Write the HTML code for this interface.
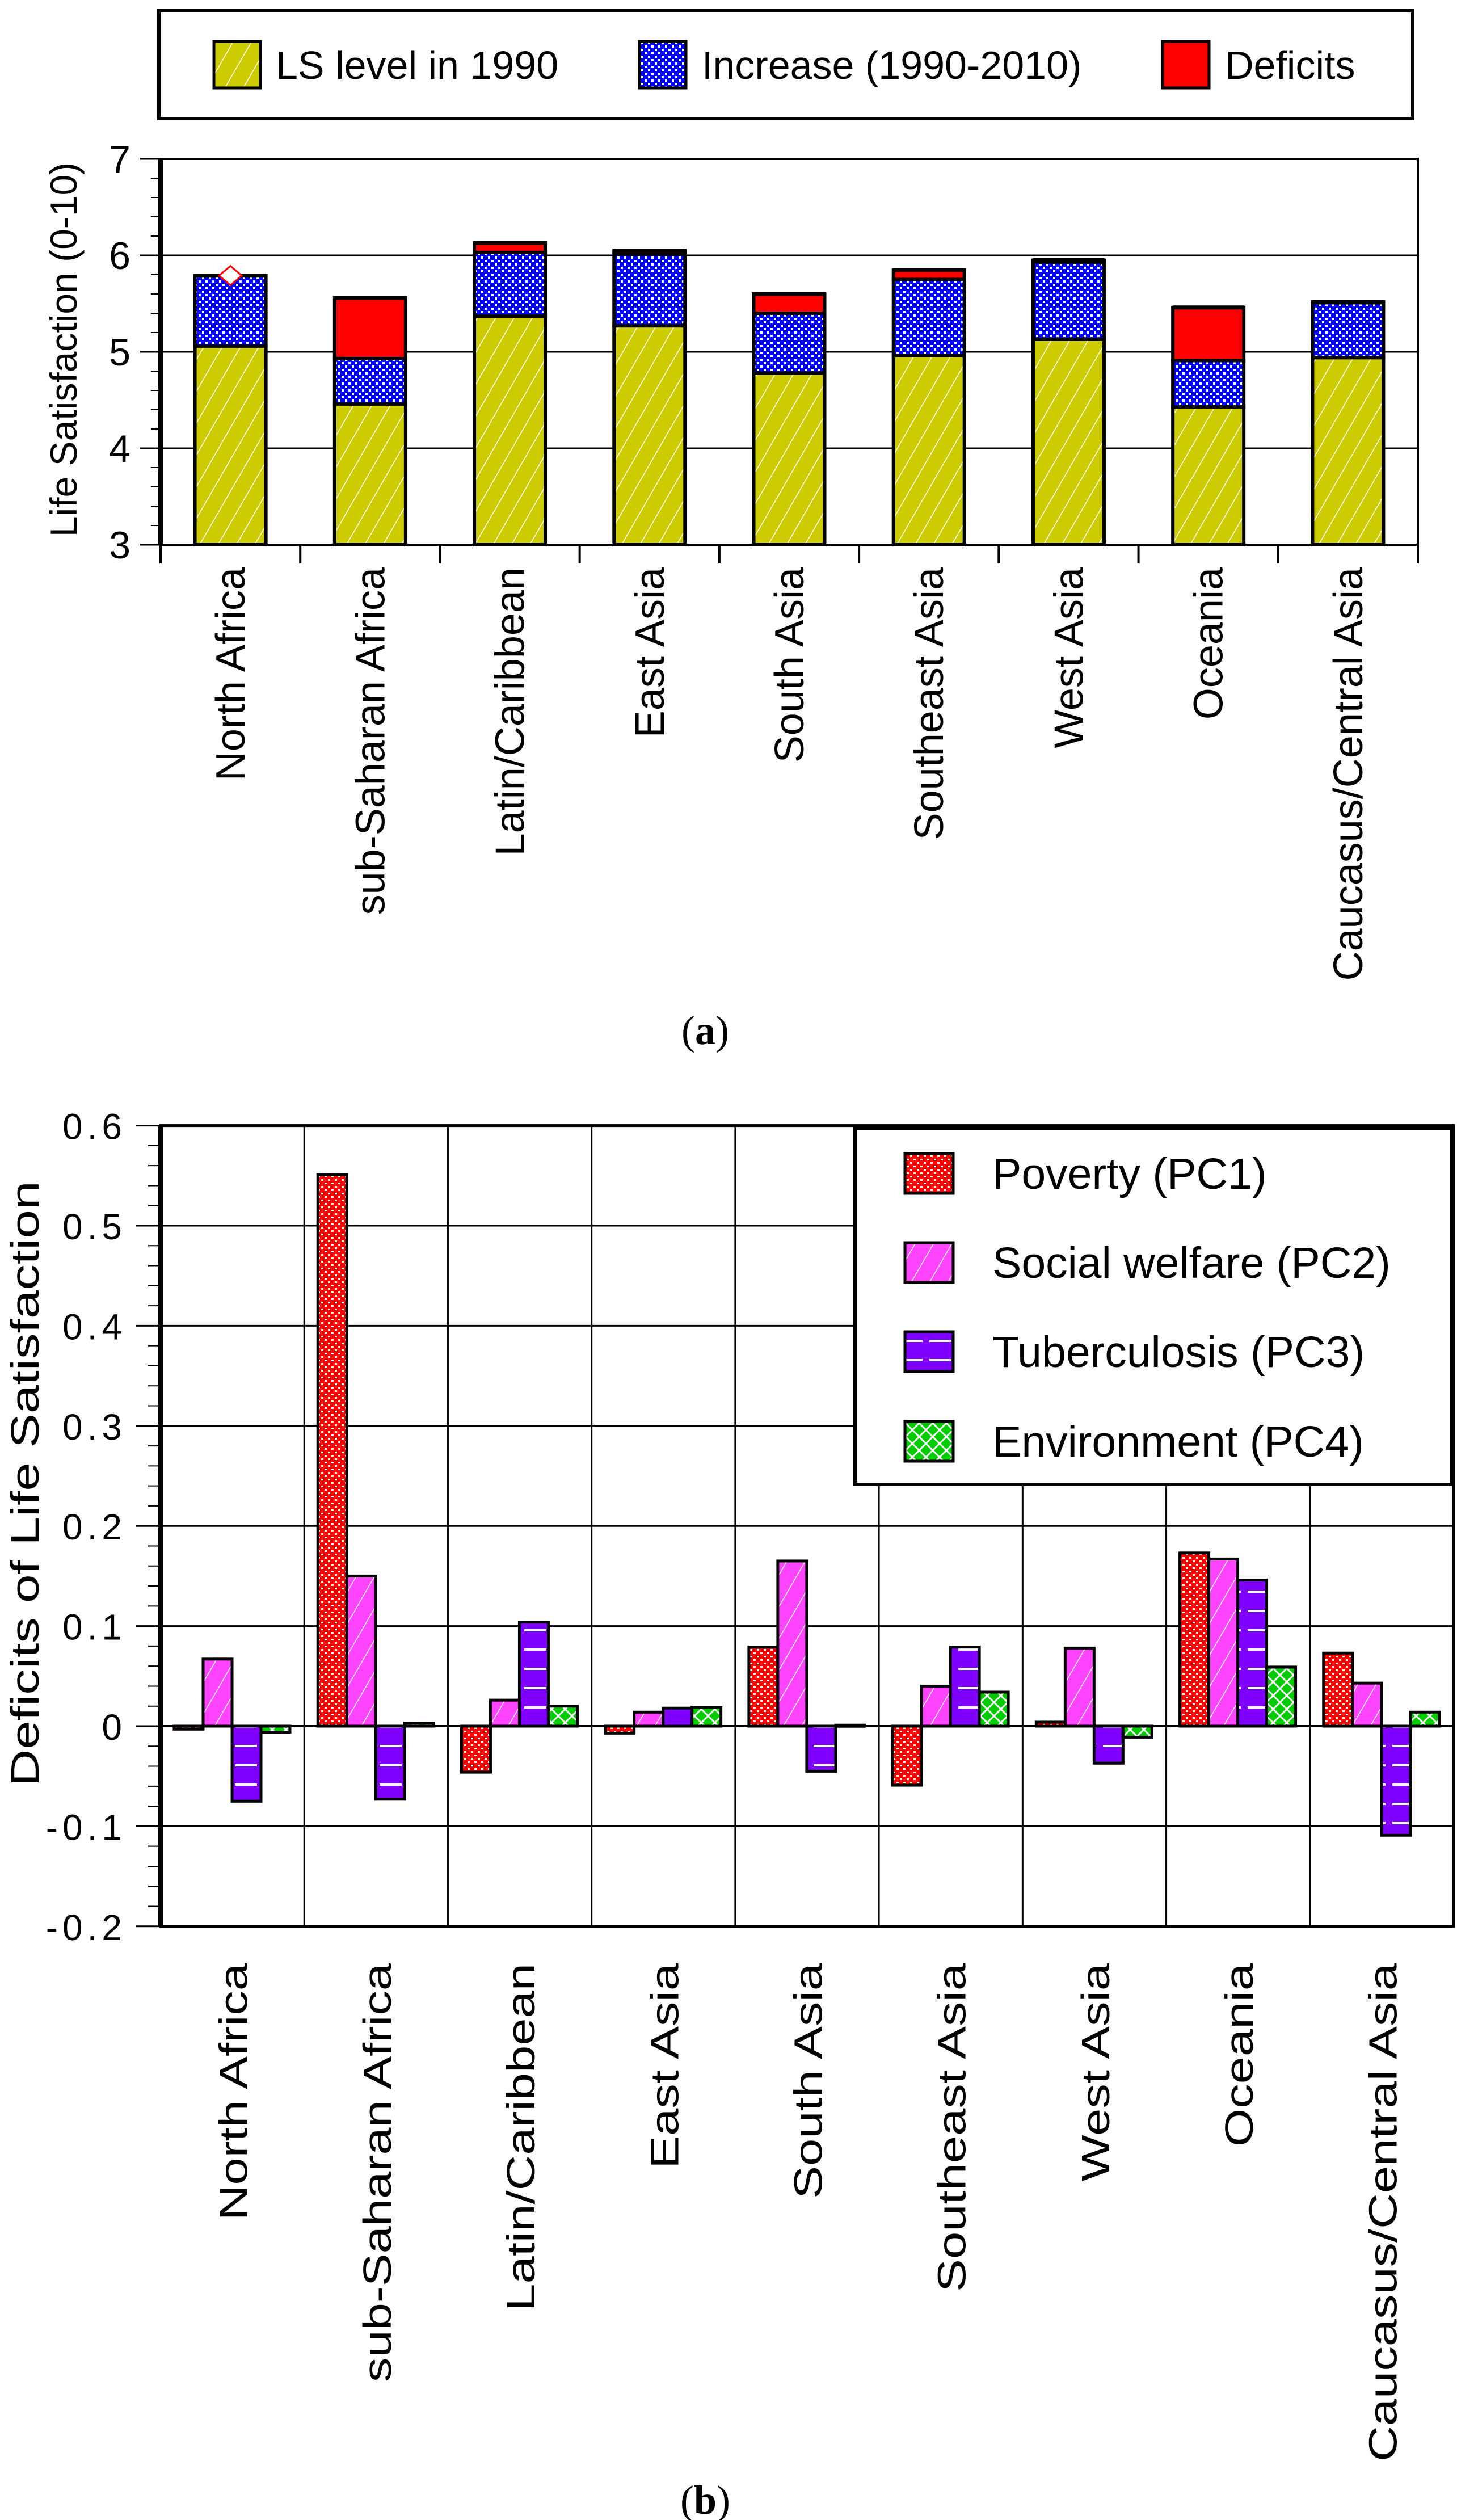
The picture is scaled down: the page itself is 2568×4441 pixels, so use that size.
<!DOCTYPE html>
<html><head><meta charset="utf-8"><style>
html,body{margin:0;padding:0;background:#fff;}
svg{display:block;font-family:"Liberation Sans",sans-serif;}
</style></head><body>
<svg id="root" width="2568" height="4441" viewBox="0 0 2568 4441" xmlns="http://www.w3.org/2000/svg">
<defs>
<pattern id="pYel" width="28" height="28" patternUnits="userSpaceOnUse" patternTransform="rotate(30)"><rect width="28" height="28" fill="#cccc00"/><line x1="0" y1="0" x2="0" y2="28" stroke="#fff" stroke-width="3"/></pattern>
<pattern id="pBlue" width="12" height="12" patternUnits="userSpaceOnUse"><rect width="12" height="12" fill="#0000ff"/><rect x="2" y="2" width="4" height="4" fill="#fff"/><rect x="8" y="8" width="4" height="4" fill="#fff"/></pattern>
<pattern id="pRedDot" width="12" height="12" patternUnits="userSpaceOnUse"><rect width="12" height="12" fill="#ff0000"/><rect x="2" y="2" width="4" height="3" fill="#fff"/><rect x="8" y="8" width="4" height="3" fill="#fff"/></pattern>
<pattern id="pPink" width="28" height="28" patternUnits="userSpaceOnUse" patternTransform="rotate(30)"><rect width="28" height="28" fill="#ff44ff"/><line x1="0" y1="0" x2="0" y2="28" stroke="#fff" stroke-width="3"/></pattern>
<pattern id="pPurp" width="51" height="34" patternUnits="userSpaceOnUse"><rect width="51" height="34" fill="#8000ff"/><line x1="6" y1="17" x2="45" y2="17" stroke="#fff" stroke-width="4"/></pattern>
<pattern id="pGreen" width="24" height="24" patternUnits="userSpaceOnUse"><rect width="24" height="24" fill="#00cc00"/><path d="M0 0L24 24M24 0L0 24" stroke="#fff" stroke-width="3"/></pattern>
</defs>
<g id="chartA"></g>
<g id="chartB"></g>
<text x="1243" y="1840" text-anchor="middle" font-family="Liberation Serif, serif" font-size="72">(<tspan font-weight="bold">a</tspan>)</text>
<text x="1243" y="4430" text-anchor="middle" font-family="Liberation Serif, serif" font-size="72">(<tspan font-weight="bold">b</tspan>)</text>
</svg>
<script>
const categories = ["North Africa","sub-Saharan Africa","Latin/Caribbean","East Asia","South Asia","Southeast Asia","West Asia","Oceania","Caucasus/Central Asia"];
const ls1990 = [5.06,4.46,5.37,5.27,4.78,4.96,5.13,4.43,4.94];
const ls2010 = [5.79,4.93,6.03,6.01,5.40,5.75,5.93,4.91,5.51];
const lsPotential = [5.79,5.56,6.13,6.05,5.60,5.85,5.95,5.46,5.52];
const diamondValue = 5.79;
const aTicks = [3,4,5,6,7];
const poverty = [-0.003,0.551,-0.046,-0.007,0.079,-0.059,0.004,0.173,0.073];
const welfare = [0.067,0.150,0.026,0.014,0.165,0.040,0.078,0.167,0.043];
const tuberc = [-0.075,-0.073,0.104,0.018,-0.045,0.079,-0.037,0.146,-0.109];
const environ = [-0.006,0.003,0.020,0.019,0.001,0.034,-0.011,0.059,0.014];
const bTicks = [-0.2,-0.1,0,0.1,0.2,0.3,0.4,0.5,0.6];
const bTickLabels = ["-0.2","-0.1","0","0.1","0.2","0.3","0.4","0.5","0.6"];

const NS="http://www.w3.org/2000/svg";
function mk(parent,tag,attrs,text){const e=document.createElementNS(NS,tag);for(const k in attrs)e.setAttribute(k,attrs[k]);if(text!==undefined)e.textContent=text;parent.appendChild(e);return e;}

// ---------- Chart A ----------
const A=document.getElementById('chartA');
const ax0=283, ax1=2499, ayTop=280, ayBot=960;
const ay=v=>ayBot-(v-3)/(7-3)*(ayBot-ayTop);
const acw=(ax1-ax0)/categories.length;
const acx=i=>ax0+(i+0.5)*acw;
const lgA=mk(A,'g',{});


mk(lgA,'rect',{x:280,y:19,width:2210,height:190,fill:'#fff',stroke:'#000','stroke-width':6});
const lgAItems=[["LS level in 1990","url(#pYel)",377,486],["Increase (1990-2010)","url(#pBlue)",1127,1237],["Deficits","#ff0000",2049,2159]];
lgAItems.forEach(it=>{
  const g=mk(lgA,'g',{});
  
  
  mk(g,'rect',{x:it[2],y:73,width:82,height:82,fill:it[1],stroke:'#000','stroke-width':5});
  mk(g,'text',{x:it[3],y:139,'font-size':70},it[0]);
});
aTicks.forEach(t=>{
  const l=mk(A,'line',{x1:ax0,x2:ax1,y1:ay(t),y2:ay(t),stroke:'#000','stroke-width':3});
  
  
  mk(A,'line',{x1:247,x2:ax0,y1:ay(t),y2:ay(t),stroke:'#000','stroke-width':3});
  const tx=mk(A,'text',{x:230,y:ay(t)+24,'font-size':68,'text-anchor':'end'},String(t));
  
  
});
for(let v=3;v<7;v+=0.2){mk(A,'line',{x1:266,x2:ax0,y1:ay(v),y2:ay(v),stroke:'#000','stroke-width':2});}
categories.forEach((c,i)=>{
  const w=125,x=acx(i)-w/2;
  const g=mk(A,'g',{});
  
  
  const segs=[[3,ls1990[i],'url(#pYel)'],[ls1990[i],ls2010[i],'url(#pBlue)'],[ls2010[i],lsPotential[i],'#ff0000']];
  segs.forEach(s=>{ if(s[1]>s[0]) mk(g,'rect',{x:x,y:ay(s[1]),width:w,height:ay(s[0])-ay(s[1]),fill:s[2],stroke:'#000','stroke-width':6}); });
  mk(g,'line',{x1:x,x2:x+w,y1:ay(lsPotential[i]),y2:ay(lsPotential[i]),stroke:'#000','stroke-width':7});
});
const dm=mk(A,'path',{d:`M${acx(0)} ${ay(diamondValue)-17} l20 17 l-20 17 l-20 -17z`,fill:'#fff',stroke:'#ff0000','stroke-width':3});


mk(A,'rect',{x:ax0,y:ayTop,width:ax1-ax0,height:ayBot-ayTop,fill:'none',stroke:'#000','stroke-width':4});
mk(A,'line',{x1:ax0,x2:ax0,y1:ayTop,y2:ayBot,stroke:'#000','stroke-width':8});
for(let i=0;i<=categories.length;i++){const xx=ax0+i*acw;mk(A,'line',{x1:xx,x2:xx,y1:ayBot,y2:ayBot+33,stroke:'#000','stroke-width':4});}
categories.forEach((c,i)=>{
  const t=mk(A,'text',{transform:`translate(${acx(i)+25},1000) rotate(-90)`,'font-size':72,'text-anchor':'end'},c);
  
  
});
const yta=mk(A,'text',{transform:'translate(135,616) rotate(-90)','font-size':66,'text-anchor':'middle'},'Life Satisfaction (0-10)');



// ---------- Chart B ----------
const B=document.getElementById('chartB');
const bx0=283,bx1=2562;
const by=v=>3042-v*1764;
const bcw=(bx1-bx0)/categories.length;
bTicks.forEach((t,k)=>{
  const l=mk(B,'line',{x1:bx0,x2:bx1,y1:by(t),y2:by(t),stroke:'#000','stroke-width':3});
  
  
  mk(B,'line',{x1:240,x2:bx0,y1:by(t),y2:by(t),stroke:'#000','stroke-width':3});
  const tx=mk(B,'text',{x:223,y:by(t)+24,'font-size':64,'text-anchor':'end','letter-spacing':8},bTickLabels[k]);
  
  
});
for(let v=-0.2;v<0.6;v+=0.02){mk(B,'line',{x1:261,x2:bx0,y1:by(v),y2:by(v),stroke:'#000','stroke-width':2});}
for(let i=1;i<categories.length;i++){const xx=bx0+i*bcw;mk(B,'line',{x1:xx,x2:xx,y1:by(0.6),y2:by(-0.2),stroke:'#000','stroke-width':3});}
const series=[[poverty,'url(#pRedDot)','bar-poverty'],[welfare,'url(#pPink)','bar-social-welfare'],[tuberc,'url(#pPurp)','bar-tuberculosis'],[environ,'url(#pGreen)','bar-environment']];
categories.forEach((c,i)=>{
  series.forEach((s,j)=>{
    const v=s[0][i], w=51, x=bx0+i*bcw+24+j*w;
    const y1=Math.min(by(v),by(0)), h=Math.max(Math.abs(by(v)-by(0)),2);
    const r=mk(B,'rect',{x:x,y:y1,width:w,height:h,fill:s[1],stroke:'#000','stroke-width':5});
    
    
  });
});
mk(B,'line',{x1:bx0,x2:bx1,y1:by(0),y2:by(0),stroke:'#000','stroke-width':4});
mk(B,'rect',{x:bx0,y:by(0.6),width:bx1-bx0,height:by(-0.2)-by(0.6),fill:'none',stroke:'#000','stroke-width':5});
mk(B,'line',{x1:bx0,x2:bx0,y1:by(0.6),y2:by(-0.2),stroke:'#000','stroke-width':8});
const lgB=mk(B,'g',{});


mk(lgB,'rect',{x:1507,y:1989,width:1052,height:627,fill:'#fff',stroke:'#000','stroke-width':6});
const lgBItems=[["Poverty (PC1)","url(#pRedDot)",2068],["Social welfare (PC2)","url(#pPink)",2225],["Tuberculosis (PC3)","url(#pPurp)",2382],["Environment (PC4)","url(#pGreen)",2540]];
lgBItems.forEach(it=>{
  const g=mk(lgB,'g',{});
  
  
  mk(g,'rect',{x:1595,y:it[2]-35,width:85,height:70,fill:it[1],stroke:'#000','stroke-width':5});
  mk(g,'text',{x:1749,y:it[2]+27,'font-size':77},it[0]);
});
categories.forEach((c,i)=>{
  const t=mk(B,'text',{transform:`translate(${bx0+(i+0.5)*bcw+26},3460) rotate(-90) scale(1.24,1)`,'font-size':70,'text-anchor':'end'},c);
  
  
});
const ytb=mk(B,'text',{transform:'translate(68,2615) rotate(-90) scale(1.3,1)','font-size':70,'text-anchor':'middle'},'Deficits of Life Satisfaction');


</script>
</body></html>
